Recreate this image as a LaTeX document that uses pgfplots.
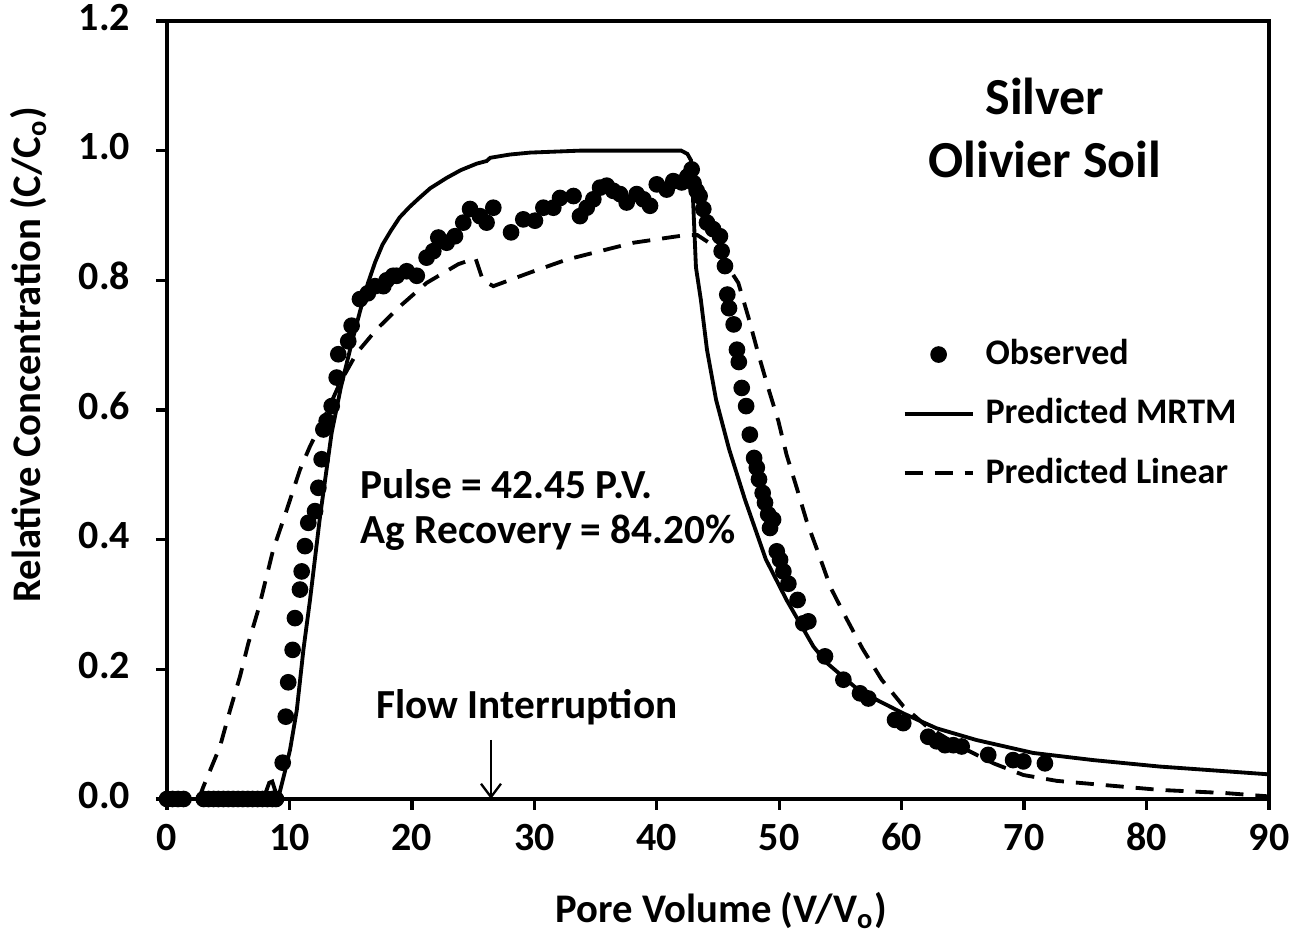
\documentclass[border=0pt]{standalone}
\usepackage{fontspec}
\setmainfont{Carlito}
\usepackage{pgfplots}
\pgfplotsset{compat=1.18}
\usetikzlibrary{arrows.meta}

\pgfplotstableread{
x y
0.0 0
0.45 0
0.9 0
1.35 0
3.0 0
3.4 0
3.8 0
4.2 0
4.6 0
5.0 0
5.4 0
5.8 0
6.2 0
6.6 0
7.0 0
7.4 0
7.8 0
8.2 0
8.6 0
8.9 0
9.45 0.056
9.7 0.127
9.9 0.18
10.26 0.23
10.45 0.279
10.86 0.323
11.0 0.351
11.27 0.39
11.54 0.426
12.09 0.444
12.36 0.48
12.63 0.524
12.77 0.57
13.04 0.583
13.45 0.606
13.86 0.65
13.99 0.686
14.8 0.706
15.08 0.73
15.76 0.771
16.4 0.78
16.99 0.791
17.67 0.791
17.94 0.80
18.47 0.807
18.76 0.807
19.58 0.814
20.4 0.807
21.2 0.835
21.75 0.845
22.16 0.866
22.84 0.858
23.52 0.868
24.2 0.889
24.75 0.91
25.56 0.899
26.1 0.889
26.65 0.912
28.1 0.874
29.1 0.894
30.05 0.892
30.74 0.912
31.55 0.912
32.1 0.927
33.2 0.93
33.73 0.899
34.28 0.912
34.82 0.925
35.37 0.943
35.91 0.946
36.45 0.938
37.0 0.933
37.54 0.92
38.36 0.933
38.9 0.925
39.45 0.915
40.0 0.948
40.81 0.94
41.35 0.953
42.04 0.951
42.5 0.96
42.85 0.971
43.0 0.95
43.26 0.938
43.5 0.93
43.8 0.91
44.1 0.889
44.6 0.879
45.16 0.868
45.3 0.845
45.57 0.822
45.76 0.778
45.9 0.757
46.28 0.732
46.55 0.693
46.7 0.674
46.94 0.634
47.3 0.606
47.6 0.562
47.95 0.526
48.17 0.511
48.35 0.493
48.65 0.472
48.84 0.457
49.1 0.439
49.25 0.418
49.5 0.431
49.8 0.382
50.07 0.369
50.34 0.351
50.75 0.332
51.5 0.307
51.97 0.271
52.38 0.274
53.74 0.22
55.24 0.184
56.6 0.163
57.28 0.155
59.46 0.122
60.13 0.117
62.17 0.096
62.86 0.089
63.54 0.083
64.22 0.083
64.9 0.081
67.07 0.068
69.1 0.06
69.94 0.058
71.7 0.055
}\observed

\pgfplotstableread{
x y
0 0
7.9 0
8.1 0.012
8.35 0.025
8.6 0.027
8.8 0.015
9.0 0.004
9.2 0.01
9.6 0.04
10.05 0.076
10.6 0.137
11.14 0.23
11.68 0.307
12.5 0.436
13.45 0.565
14.2 0.635
15.0 0.697
15.76 0.752
16.4 0.795
17.0 0.828
17.6 0.855
18.3 0.877
19.0 0.897
19.8 0.913
20.6 0.927
21.5 0.942
22.84 0.958
24.0 0.970
25.3 0.980
26.1 0.984
26.4 0.989
28 0.994
29.65 0.997
33.7 1.0
42.0 1.0
42.5 0.995
42.8 0.985
42.95 0.93
43.2 0.82
43.6 0.77
44.1 0.693
44.84 0.616
45.9 0.54
47.2 0.462
48.9 0.37
50.6 0.307
52.8 0.235
53.88 0.21
56.6 0.166
60.14 0.132
62.86 0.109
66.1 0.091
70.75 0.071
75.65 0.06
81.1 0.05
90 0.038
}\mrtm

\pgfplotstableread{
x y
2.6 0
2.97 0.019
4.33 0.081
5.15 0.137
5.96 0.189
6.64 0.24
7.5 0.295
8.68 0.385
9.78 0.446
10.86 0.508
11.68 0.544
13.04 0.596
14.13 0.642
15.5 0.688
17.1 0.724
19.03 0.76
21.2 0.796
23.8 0.825
25.2 0.834
25.8 0.80
26.65 0.791
29.65 0.812
32.65 0.832
35.37 0.845
38.1 0.858
41.35 0.867
42.5 0.87
43.3 0.87
44.5 0.855
45.5 0.83
46.66 0.796
47.5 0.742
48.3 0.686
49.1 0.634
49.93 0.583
50.6 0.531
51.43 0.48
52.25 0.428
53.2 0.379
54.2 0.326
55.5 0.278
56.8 0.232
58.37 0.184
60.14 0.143
62.05 0.112
64.77 0.081
67.5 0.055
69.94 0.037
72.66 0.028
75.65 0.023
81.1 0.014
86.55 0.009
90 0.004
}\linear

\begin{document}
\begin{tikzpicture}
\useasboundingbox (-50.1pt,-40.5pt) rectangle (342.6pt,239.7pt);
\begin{axis}[
  at={(0pt,0pt)}, anchor=south west,
  scale only axis,
  width=330.6pt, height=233.4pt,
  xmin=0, xmax=90, ymin=0, ymax=1.2,
  xtick={0,10,...,90},
  ytick={0,0.2,...,1.2},
  yticklabel style={/pgf/number format/fixed, /pgf/number format/fixed zerofill, /pgf/number format/precision=1, xshift=-4.2pt},
  xticklabel style={yshift=1.3pt},
  typeset ticklabels with strut,
  /pgf/number format/assume math mode=true,
  tick label style={font=\fontsize{12}{14}\selectfont\bfseries},
  tick align=outside,
  xtick pos=bottom, ytick pos=left,
  major tick length=3.3pt,
  axis line style={line width=1pt},
  major tick style={line width=1pt, black},
  xlabel={Pore Volume (V/V\textsubscript{o})},
  ylabel={Relative Concentration (C/C\textsubscript{o})},
  label style={font=\fontsize{12.2}{14}\selectfont\bfseries},
  xlabel style={at={(axis description cs:0.503,-0.143)}, anchor=center},
  ylabel style={at={(axis description cs:-0.126,0.571)}, anchor=center},
  legend image code/.code={\draw[mark repeat=2,mark phase=2,#1] plot coordinates {(0pt,0pt) (10.2pt,0pt) (20.4pt,0pt)};},
  legend style={draw=none, fill=none, at={(axis description cs:0.667,0.598)}, anchor=north west,
    font=\fontsize{10.8}{13}\selectfont\bfseries, row sep=5.7pt, column sep=1.8pt, inner sep=0pt,
    nodes={inner sep=1.5pt}},
  legend cell align=left,
]
\addplot[only marks, mark=*, mark size=2.3pt, black] table {\observed};
\addlegendentry{Observed}
\addplot[black, line width=1.15pt] table {\mrtm};
\addlegendentry{Predicted MRTM}
\addplot[black, line width=1.15pt, dash pattern=on 5.4pt off 3.6pt] table {\linear};
\addlegendentry{Predicted Linear}

\node[font=\fontsize{15.6}{18}\selectfont\bfseries, align=center] at (axis cs:71.7,1.084) {Silver};
\node[font=\fontsize{15.6}{18}\selectfont\bfseries, align=center] at (axis cs:71.7,0.987) {Olivier Soil};
\node[font=\fontsize{12.4}{14}\selectfont\bfseries, anchor=west, inner sep=0pt] at (axis cs:15.76,0.485) {Pulse = 42.45 P.V.};
\node[font=\fontsize{12.4}{14}\selectfont\bfseries, anchor=west, inner sep=0pt] at (axis cs:15.76,0.411) {Ag Recovery = 84.20\%};
\node[font=\fontsize{12.4}{14}\selectfont\bfseries] at (axis cs:29.4,0.142) {Flow Interruption};
\draw[line width=0.7pt, -{Straight Barb[length=4pt,width=6pt]}] (axis cs:26.46,0.091) -- (axis cs:26.46,0.0);
\end{axis}
\end{tikzpicture}
\end{document}
